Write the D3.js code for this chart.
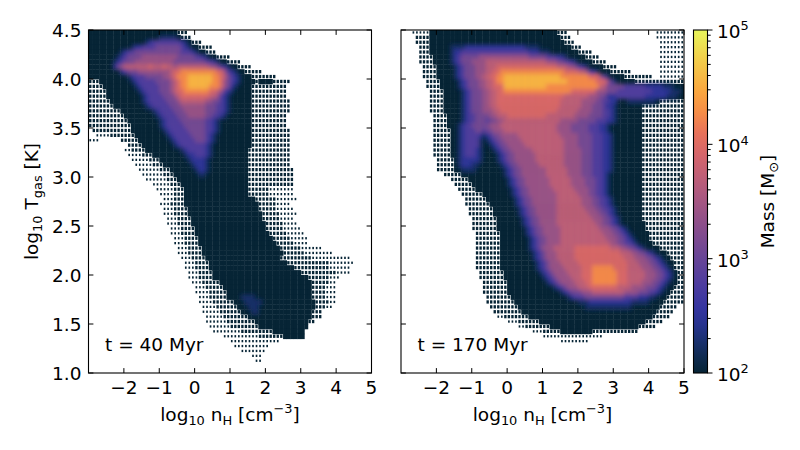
<!DOCTYPE html>
<html lang="en">
<head>
<meta charset="UTF-8">
<title>Phase diagram</title>
<style>
  body { margin: 0; background: #fff; }
  text { font-family: "DejaVu Sans", sans-serif; fill: #000; white-space: pre; }
  .frame { fill: none; stroke: #000; stroke-width: 1.1px; }
  .tick { stroke: #000; stroke-width: 1px; }
</style>
</head>
<body>
<svg id="chart" width="800" height="450"></svg>
<script src="https://d3js.org/d3.v7.min.js"></script>
<script>
// axis ranges and bin sizes (log10 nH, log10 T)
const nRange = [-3, 5];
const tRange = [1.0, 4.5];
const binN = 0.1;
const binT = 0.05;

const xTicks = [-2, -1, 0, 1, 2, 3, 4, 5];
const yTicks = [1.0, 1.5, 2.0, 2.5, 3.0, 3.5, 4.0, 4.5];
const massRange = [2, 5];            // log10 M, colour bar limits
const massMajor = [2, 3, 4, 5];
const panelLabels = ["t = 40 Myr", "t = 170 Myr"];

// log10 mass of each level digit in the grids below
const levelMass = [2.0, 2.25, 2.5, 2.8, 3.1, 3.4, 3.7, 3.95, 4.25, 4.55];
// sparsely filled cells (scattered single bins): share of the cell that is filled
const sparseCover = { ".": 0.45, ",": 0.22 };

// colour bar stops (fraction of bar, colour)
const cbarStops = [
  [0.00, "#062435"], [0.04, "#0e2a4c"], [0.09, "#19306c"], [0.14, "#27338e"],
  [0.19, "#3535a0"], [0.25, "#4a3b9f"], [0.33, "#664497"], [0.43, "#8b4e8b"],
  [0.53, "#b05a7e"], [0.63, "#d3646c"], [0.70, "#e8725a"], [0.76, "#f68d47"],
  [0.82, "#faa63f"], [0.92, "#f2d04b"], [1.00, "#e8f55b"]
];

// binned mass, row by row from log T = 4.5 downwards, run-length coded
// "<level>x<count>", level: _ empty, , . sparse, 0-9 mass level
const rows40 = [
  "0x25 .x3",
  "0x20 1x5 0x1 .x3",
  "0x16 1x1 2x1 3x8 2x1 1x1 0x1 .x3",
  "0x12 1x1 2x2 3x4 4x7 3x1 2x1 1x1 0x2 .x4",
  "0x9 1x1 2x1 3x2 4x13 3x3 2x1 1x1 0x2 .x3",
  "0x8 1x1 2x1 3x1 4x4 5x10 4x5 3x2 2x1 1x1 0x2 .x4",
  "0x7 1x1 2x1 3x1 4x3 5x11 4x9 3x2 2x1 1x1 0x2 .x4",
  "0x7 2x1 4x1 5x1 6x7 7x1 6x3 7x1 6x2 5x1 6x9 5x2 4x1 3x1 2x1 1x1 0x2 .x4",
  "0x9 2x1 3x1 4x3 5x9 6x1 7x2 8x10 7x2 5x1 3x1 2x1 1x1 0x2 .x5",
  "0x11 1x1 2x1 3x3 4x5 5x2 6x1 7x1 8x3 9x7 8x2 7x1 6x1 4x1 3x1 2x1 1x1 0x3 .x7",
  ".x3 0x9 1x1 2x1 3x5 4x4 5x1 6x1 7x1 8x2 9x7 8x2 7x1 5x1 4x1 3x1 2x1 1x1 0x4 .x1 0x4 .x5",
  ".x4 0x9 1x1 2x1 3x5 4x3 5x1 6x1 7x1 8x2 9x6 8x3 7x1 5x1 4x1 2x1 1x1 0x4 .x10",
  ".x5 0x9 1x1 2x1 3x4 4x3 5x1 6x1 7x2 8x7 7x2 6x1 5x1 3x1 2x1 1x1 0x5 .x10",
  ".x5 0x10 1x1 2x1 3x4 4x3 5x1 6x1 7x8 6x2 5x1 3x1 2x1 1x1 0x6 .x10",
  ".x6 0x9 1x1 2x1 3x5 4x3 5x1 6x7 5x2 4x2 3x1 2x1 1x1 0x6 .x11",
  ".x7 0x9 1x1 2x1 3x5 4x3 5x7 4x3 3x2 2x1 1x1 0x6 .x11",
  ".x9 0x9 1x1 2x1 3x4 4x3 5x6 4x3 3x2 2x1 1x1 0x6 .x11",
  ".x10 0x9 1x1 2x1 3x4 4x3 5x5 4x2 3x2 2x1 1x1 0x7 .x10",
  ".x11 0x9 1x1 2x1 3x4 4x7 3x2 2x1 1x1 0x9 .x10",
  ".x12 0x8 1x1 2x1 3x5 4x6 3x2 2x1 1x1 0x9 .x10",
  "_x1 .x11 0x9 1x1 2x1 3x5 4x5 3x2 2x1 1x1 0x9 .x11",
  "_x2 ,x4 .x7 0x9 1x1 2x1 3x5 4x4 3x1 2x1 1x1 0x10 .x11",
  ",x3 _x6 .x5 0x9 1x1 2x1 3x5 4x3 3x1 2x1 1x1 0x10 .x11",
  "_x11 .x4 0x9 1x1 2x1 3x7 2x1 1x1 0x11 .x11",
  "_x10 ,x2 .x4 0x10 1x1 2x1 3x5 2x1 1x1 0x10 .x12",
  "_x11 ,x4 .x3 0x9 1x1 2x2 3x3 2x1 1x1 0x10 .x12",
  "_x12 ,x5 .x3 0x8 1x1 2x4 1x1 0x11 .x12",
  "_x13 ,x5 .x3 0x8 1x1 2x3 1x1 0x11 .x12",
  "_x14 ,x6 .x3 0x7 1x1 2x2 1x1 0x11 .x13",
  "_x15 ,x6 .x3 0x7 1x2 0x12 .x13",
  "_x16 ,x6 .x3 0x20 .x13",
  "_x18 ,x5 .x3 0x19 .x13",
  "_x19 ,x5 .x3 0x18 .x6 ,x7",
  "_x20 ,x4 .x3 0x18 .x6 ,x7",
  "_x21 ,x3 .x3 0x20 .x6 ,x6",
  "_x20 ,x3 .x4 0x21 .x5 ,x4",
  "_x21 ,x3 .x4 0x20 .x5 ,x5",
  "_x21 ,x3 .x4 0x21 .x5 ,x5",
  "_x22 ,x3 .x4 0x20 .x5 ,x4",
  "_x22 ,x3 .x4 0x21 .x5 ,x4",
  "_x23 ,x3 .x4 0x20 .x5 ,x5",
  "_x23 ,x3 .x4 0x21 .x5 ,x5",
  "_x24 ,x3 .x4 0x21 .x5 ,x5",
  "_x24 ,x3 .x4 0x22 .x5 ,x4",
  "_x25 ,x3 .x4 0x22 .x6 ,x6",
  "_x25 ,x3 .x4 0x23 .x6 ,x8",
  "_x26 ,x3 .x4 0x21 .x9 ,x11",
  "_x27 ,x3 .x4 0x22 .x12 ,x7",
  "_x27 ,x3 .x4 0x24 .x10 ,x6",
  "_x28 ,x3 .x4 0x25 .x10 ,x4",
  "_x28 ,x3 .x4 0x27 .x6 ,x3",
  "_x29 ,x3 .x5 0x26 .x5 ,x2",
  "_x30 ,x3 .x5 0x25 .x4 ,x3",
  "_x30 ,x4 .x5 0x24 .x4 ,x3",
  "_x31 ,x3 .x5 0x4 1x4 0x16 .x4 ,x3",
  "_x31 ,x4 .x6 0x3 1x5 0x15 .x4 ,x2",
  "_x32 ,x4 .x6 0x3 1x3 0x16 .x3 ,x2",
  "_x32 ,x5 .x6 0x3 1x2 0x15 .x3",
  "_x33 ,x5 .x7 0x18 .x3",
  "_x33 ,x6 .x8 0x15 .x2",
  "_x34 ,x6 .x8 0x14",
  "_x35 ,x8 .x9 0x9",
  "_x38 ,x10 .x7 0x6",
  "_x40 ,x14",
  "_x41 ,x10",
  "_x43 ,x7",
  "_x46 ,x3",
  "_x47 ,x2"
];

const rows170 = [
  "_x3 ,x5 0x36 .x3 _x25 ,x8",
  "_x4 .x4 0x37 .x3 _x24 ,x8",
  "_x4 .x4 0x38 .x3 _x24 ,x7",
  "_x5 .x3 0x6 1x4 2x17 1x4 0x9 .x3 _x22 ,x7",
  "_x5 .x3 0x6 1x1 2x2 3x19 2x3 1x3 0x8 .x4 _x19 ,x7",
  "_x5 .x4 0x5 1x1 2x1 3x1 4x5 5x14 4x5 3x3 2x2 1x1 0x5 .x4 _x17 ,x7",
  "_x5 .x4 0x5 1x1 2x1 3x1 4x3 5x4 6x17 5x3 4x2 3x2 2x1 1x1 0x4 .x4 _x15 ,x7",
  "_x6 .x4 0x5 1x1 2x1 3x1 4x3 5x3 6x3 7x17 6x3 5x2 4x1 3x1 2x1 1x1 0x4 .x4 _x12 ,x7",
  "_x6 .x4 0x5 1x1 2x1 3x1 4x3 5x3 6x2 7x2 8x18 7x4 6x2 5x1 3x1 2x1 1x1 0x3 .x6 _x8 ,x7",
  "_x6 .x4 0x5 1x1 2x1 3x1 4x3 5x2 6x2 7x2 8x2 9x16 8x8 7x3 5x1 3x1 1x1 0x4 .x8 _x2 ,x7",
  "_x7 .x4 0x5 1x1 2x1 3x1 4x3 5x2 6x2 7x1 8x2 9x18 8x8 7x3 5x1 3x1 1x1 0x5 .x14",
  "_x7 .x4 0x5 1x1 2x1 3x1 4x3 5x2 6x2 7x3 9x12 8x15 6x2 4x5 3x6 2x5 1x3 0x3",
  "_x8 .x4 0x5 1x1 2x1 3x1 4x3 5x2 6x2 7x2 8x19 7x7 5x3 4x3 3x10 2x5 1x3 0x1",
  "_x8 .x4 0x5 1x1 2x1 3x1 4x3 5x2 6x2 7x19 6x7 5x3 4x2 2x3 3x8 2x6 1x3 0x2",
  "_x8 .x4 0x5 1x1 2x1 3x1 4x3 5x2 6x2 7x18 6x6 5x4 4x2 3x2 2x2 0x3 1x8 0x1 .x7",
  "_x8 .x4 0x5 1x1 2x1 3x1 4x3 5x2 6x2 7x18 6x6 5x3 4x3 3x1 2x2 1x1 0x7 .x12",
  "_x8 .x4 0x5 1x1 2x1 3x1 4x3 5x3 6x2 7x16 6x6 5x4 4x3 3x2 2x1 1x1 0x7 .x12",
  "_x9 .x4 0x4 1x1 2x1 3x2 4x4 5x2 6x3 7x11 6x8 5x4 4x4 3x2 2x1 1x1 0x7 .x12",
  "_x9 .x4 0x4 1x1 2x1 3x2 4x3 3x1 4x2 5x2 6x16 5x5 4x5 3x3 2x2 1x1 0x7 .x12",
  "_x9 .x4 0x3 1x1 2x1 3x2 4x5 5x3 6x16 5x4 4x5 3x3 2x2 1x1 0x9 .x12",
  "_x9 .x5 0x2 1x1 2x1 3x3 4x2 3x1 4x2 5x3 6x15 5x4 4x5 3x3 2x2 1x1 0x9 .x12",
  "_x9 .x5 0x2 1x1 2x1 3x4 2x1 1x1 2x1 3x1 4x2 5x5 6x12 5x5 4x4 3x3 2x2 1x1 0x8 .x12",
  "_x9 .x5 0x2 1x1 2x1 3x4 1x1 0x1 1x1 2x1 3x1 4x2 5x5 6x12 5x4 4x4 3x3 2x2 1x1 0x8 .x12",
  "_x9 .x5 0x2 1x1 2x1 3x4 1x1 0x2 1x1 2x1 3x1 4x2 5x5 6x11 5x4 4x4 3x3 2x2 1x1 0x8 .x12",
  "_x9 .x5 0x2 1x1 2x1 3x3 2x1 1x1 0x3 1x1 2x1 3x1 4x2 5x6 6x9 5x5 4x3 3x3 2x2 1x1 0x8 .x12",
  "_x9 .x5 0x2 1x1 2x1 3x3 2x1 1x1 0x4 1x1 2x1 3x1 4x2 5x6 6x8 5x5 4x3 3x3 2x2 1x1 0x8 .x12",
  "_x10 .x5 0x1 1x1 2x5 1x1 0x4 1x1 2x1 3x1 4x2 5x6 6x8 5x5 4x3 3x3 2x2 1x1 0x8 .x12",
  "_x10 .x5 0x1 1x1 2x3 1x2 0x6 1x1 2x1 3x1 4x2 5x6 6x7 5x5 4x3 3x3 2x2 1x1 0x8 .x12",
  "_x10 .x5 0x2 1x4 0x8 1x1 2x1 3x1 4x2 5x7 6x6 5x4 4x3 3x3 2x2 1x1 0x8 .x12",
  "_x12 .x5 0x12 1x1 2x1 3x1 4x2 5x7 6x6 5x4 4x3 3x3 2x1 1x1 0x9 .x12",
  "_x14 .x5 0x11 1x1 2x1 3x1 4x2 5x7 6x6 5x4 4x3 3x2 2x1 1x1 0x9 .x12",
  "_x15 .x5 0x10 1x1 2x1 3x1 4x2 5x7 6x6 5x4 4x3 3x2 2x1 1x1 0x9 .x12",
  "_x16 .x5 0x10 1x1 2x1 3x1 4x2 5x7 6x6 5x4 4x2 3x2 2x1 1x1 0x9 .x12",
  "_x17 .x6 0x8 1x1 2x1 3x1 4x2 5x8 6x6 5x3 4x2 3x2 2x1 1x1 0x9 .x12",
  "_x18 .x6 0x8 1x1 2x1 3x1 4x2 5x7 6x7 5x3 4x2 3x2 2x1 1x1 0x8 .x12",
  "_x18 .x7 0x7 1x1 2x1 3x1 4x2 5x7 6x7 5x3 4x2 3x2 2x1 1x1 0x8 .x12",
  "_x19 .x7 0x7 1x1 2x1 3x1 4x2 5x6 6x8 5x3 4x2 3x2 2x1 1x1 0x7 .x12",
  "_x19 .x7 0x7 1x1 2x1 3x1 4x2 5x6 6x9 5x3 4x2 3x1 2x1 1x1 0x7 .x12",
  "_x20 .x7 0x7 1x1 2x1 3x1 4x2 5x5 6x10 5x3 4x2 3x1 2x1 1x1 0x6 .x12",
  "_x20 .x7 0x7 1x1 2x1 3x1 4x2 5x5 6x11 5x2 4x2 3x1 2x1 1x1 0x7 .x11",
  "_x20 .x7 0x8 1x1 2x1 3x1 4x2 5x5 6x11 5x3 4x2 3x1 2x1 1x1 0x5 .x11",
  "_x21 .x7 0x7 1x1 2x1 3x1 4x2 5x5 6x12 5x3 4x2 3x1 2x1 1x1 0x5 .x10",
  "_x21 .x7 0x8 1x1 2x1 3x1 4x2 5x4 6x13 5x3 4x2 3x1 2x1 1x1 0x4 .x10",
  "_x21 .x7 0x8 1x1 2x1 3x1 4x2 5x4 6x14 5x2 4x2 3x2 2x1 1x1 0x4 .x9",
  "_x21 .x7 0x8 1x1 2x1 3x1 4x1 5x3 6x6 7x10 6x3 5x2 4x2 3x1 2x1 1x1 0x4 .x7",
  "_x21 .x7 0x9 1x1 2x1 3x1 4x1 5x3 6x5 7x13 6x3 5x2 4x2 3x1 2x1 1x1 0x3 .x5",
  "_x21 .x7 0x9 1x1 2x1 3x1 4x1 5x3 6x5 7x14 6x3 5x3 4x2 3x1 2x1 1x1 0x2 .x4",
  "_x21 .x7 0x10 1x1 2x1 3x1 4x1 5x3 6x5 7x14 6x3 5x3 4x2 3x1 2x1 1x1 0x2 .x3",
  "_x21 .x7 0x10 1x1 2x1 3x1 4x1 5x4 6x5 7x3 8x6 7x4 6x4 5x3 4x2 3x1 2x1 1x1 0x1 .x3",
  "_x22 .x7 0x10 1x1 2x1 3x1 4x1 5x4 6x4 7x3 8x7 7x3 6x5 5x3 4x2 3x1 2x1 1x1 0x1 .x2",
  "_x22 .x7 0x11 1x1 2x1 3x1 4x1 5x4 6x3 7x3 8x7 7x3 6x5 5x3 4x2 3x1 2x1 1x1 0x1 .x2",
  "_x23 .x7 0x11 1x1 2x1 3x1 4x1 5x4 6x3 7x2 8x7 7x3 6x4 5x3 4x2 3x1 2x1 1x1 0x2 .x2",
  "_x23 .x7 0x13 1x1 2x1 3x1 4x1 5x3 6x3 7x8 6x4 5x4 4x3 3x1 2x1 1x1 0x2 .x3",
  "_x23 .x7 0x15 1x1 2x1 3x1 4x3 5x3 6x9 5x4 4x3 3x2 2x1 1x1 0x2 .x4",
  "_x24 .x7 0x16 1x1 2x1 3x3 4x11 3x4 2x3 1x2 0x3 .x5",
  "_x24 .x8 0x18 1x3 2x12 1x5 0x4 .x6",
  "_x25 .x8 0x19 1x13 0x8 .x5",
  "_x26 .x8 0x38 .x5",
  "_x27 ,x2 .x7 0x35 .x5",
  "_x30 ,x3 .x6 0x30 .x5",
  "_x33 ,x2 .x7 0x25 .x5",
  "_x37 ,x3 .x5 0x9 .x13",
  "_x40 ,x17",
  "_x45 ,x8"
];

// ---- layout ----
const fontSize = 18.5;
const panelTop = 30, panelW = 283, panelH = 343;
const panels = [
  { left: 88.5, rows: rows40, label: panelLabels[0], yLabels: true },
  { left: 401, rows: rows170, label: panelLabels[1], yLabels: false }
];
const cbar = { left: 693.5, width: 14 };
const tickLen = 4.9;

const svg = d3.select("#chart");

const x = d3.scaleLinear().domain(nRange).range([0, panelW]);
const y = d3.scaleLinear().domain(tRange).range([panelH, 0]);
const massY = d3.scaleLinear().domain(massRange).range([panelH, 0]);
const massFrac = d3.scaleLinear().domain(massRange).range([0, 1]);
const colour = d3.scaleLinear()
  .domain(cbarStops.map(s => massFrac.invert(s[0])))
  .range(cbarStops.map(s => s[1]))
  .interpolate(d3.interpolateRgb)
  .clamp(true);

const nCols = Math.round((nRange[1] - nRange[0]) / binN);

function decodeRow(row) {
  const cells = [];
  row.split(" ").forEach(tok => {
    if (!tok) return;
    const [c, k] = tok.split("x");
    for (let m = 0; m < +k; m++) cells.push(c);
  });
  return cells;
}

function rich(sel, parts, size) {
  let off = 0;
  parts.forEach(([str, kind]) => {
    const target = kind === "sub" ? size * 0.24 : kind === "sup" ? -size * 0.42 : 0;
    sel.append("tspan")
      .attr("dy", target - off)
      .attr("font-size", kind ? size * 0.7 : size)
      .text(str);
    off = target;
  });
}

function fmt(v) {
  return v < 0 ? "\u2212" + Math.abs(v) : String(v);
}

const defs = svg.append("defs");
defs.append("clipPath").attr("id", "panelClip")
  .append("rect").attr("width", panelW).attr("height", panelH);
// soften the coarse bins of the coloured layer a little
defs.append("filter").attr("id", "soften")
  .attr("x", "-5%").attr("y", "-5%").attr("width", "110%").attr("height", "110%")
  .append("feGaussianBlur").attr("stdDeviation", 2);

panels.forEach(p => {
  const g = svg.append("g").attr("transform", `translate(${p.left},${panelTop})`);

  const cells = [];
  p.rows.forEach((row, j) => {
    const tHi = tRange[1] - j * binT;
    decodeRow(row).forEach((c, i) => {
      if (c === "_" || i >= nCols) return;
      cells.push({ n0: nRange[0] + i * binN, t0: tHi - binT, c });
    });
  });

  // full bins are drawn edge to edge, sparse bins as a smaller square inside the bin
  const side = d => Math.sqrt(sparseCover[d.c] || 1);
  const w = d => x(d.n0 + binN) - x(d.n0);
  const h = d => y(d.t0) - y(d.t0 + binT);
  const plot = g.append("g").attr("clip-path", "url(#panelClip)");

  // every occupied bin, in the colour of the lowest mass
  plot.append("g")
    .selectAll("rect").data(cells).join("rect")
    .attr("x", d => x(d.n0) + w(d) * (1 - side(d)) / 2)
    .attr("y", d => y(d.t0 + binT) + h(d) * (1 - side(d)) / 2)
    .attr("width", d => w(d) * side(d) + (sparseCover[d.c] ? 0 : 0.4))
    .attr("height", d => h(d) * side(d) + (sparseCover[d.c] ? 0 : 0.4))
    .attr("fill", colour(levelMass[0]));

  // bins above the lowest mass, coloured by mass
  plot.append("g").attr("filter", "url(#soften)")
    .selectAll("rect").data(cells.filter(d => !sparseCover[d.c] && +d.c > 0)).join("rect")
    .attr("x", d => x(d.n0))
    .attr("y", d => y(d.t0 + binT))
    .attr("width", d => w(d) + 0.4)
    .attr("height", d => h(d) + 0.4)
    .attr("fill", d => colour(levelMass[+d.c]));

  // ticks, pointing inwards on all four sides
  const tk = g.append("g");
  xTicks.forEach(v => {
    tk.append("line").attr("class", "tick")
      .attr("x1", x(v)).attr("x2", x(v)).attr("y1", panelH).attr("y2", panelH - tickLen);
    tk.append("line").attr("class", "tick")
      .attr("x1", x(v)).attr("x2", x(v)).attr("y1", 0).attr("y2", tickLen);
    g.append("text")
      .attr("x", x(v)).attr("y", panelH + 21)
      .attr("text-anchor", "middle").attr("font-size", fontSize)
      .text(fmt(v));
  });
  yTicks.forEach(v => {
    tk.append("line").attr("class", "tick")
      .attr("x1", 0).attr("x2", tickLen).attr("y1", y(v)).attr("y2", y(v));
    tk.append("line").attr("class", "tick")
      .attr("x1", panelW).attr("x2", panelW - tickLen).attr("y1", y(v)).attr("y2", y(v));
    if (p.yLabels) {
      g.append("text")
        .attr("x", -7).attr("y", y(v) + 7)
        .attr("text-anchor", "end").attr("font-size", fontSize)
        .text(v.toFixed(1));
    }
  });

  g.append("rect").attr("class", "frame").attr("width", panelW).attr("height", panelH);

  g.append("text")
    .attr("x", 16.5).attr("y", 321)
    .attr("font-size", fontSize)
    .text(p.label);

  const xl = g.append("text")
    .attr("x", panelW / 2).attr("y", panelH + 48)
    .attr("text-anchor", "middle").attr("font-size", fontSize);
  rich(xl, [["log"], ["10", "sub"], [" n"], ["H", "sub"], [" [cm"], ["\u22123", "sup"], ["]"]], fontSize);
});

// y axis label
const yl = svg.append("text")
  .attr("transform", `translate(38,${panelTop + panelH / 2}) rotate(-90)`)
  .attr("text-anchor", "middle").attr("font-size", fontSize);
rich(yl, [["log"], ["10", "sub"], [" T"], ["gas", "sub"], [" [K]"]], fontSize);

// colour bar
const grad = defs.append("linearGradient")
  .attr("id", "cbarGrad").attr("x1", 0).attr("x2", 0).attr("y1", 1).attr("y2", 0);
grad.selectAll("stop").data(cbarStops).join("stop")
  .attr("offset", d => d[0]).attr("stop-color", d => d[1]);

const cb = svg.append("g").attr("transform", `translate(${cbar.left},${panelTop})`);
cb.append("rect").attr("width", cbar.width).attr("height", panelH).attr("fill", "url(#cbarGrad)");
cb.append("rect").attr("class", "frame").attr("width", cbar.width).attr("height", panelH);

const logScale = d3.scaleLog().domain(massRange.map(v => Math.pow(10, v)));
logScale.ticks().forEach(v => {
  const lv = Math.log10(v);
  const major = massMajor.some(m => Math.abs(m - lv) < 1e-9);
  cb.append("line").attr("class", "tick")
    .attr("x1", cbar.width).attr("x2", cbar.width + (major ? 5 : 3.2))
    .attr("y1", massY(lv)).attr("y2", massY(lv));
});
massMajor.forEach(m => {
  const t = cb.append("text")
    .attr("x", cbar.width + 9.5).attr("y", massY(m) + 8)
    .attr("font-size", fontSize);
  rich(t, [["10"], [String(m), "sup"]], fontSize);
});

const cl = svg.append("text")
  .attr("transform", `translate(774,${panelTop + panelH / 2}) rotate(-90)`)
  .attr("text-anchor", "middle").attr("font-size", fontSize);
rich(cl, [["Mass [M"], ["\u2299", "sub"], ["]"]], fontSize);
</script>
</body>
</html>
